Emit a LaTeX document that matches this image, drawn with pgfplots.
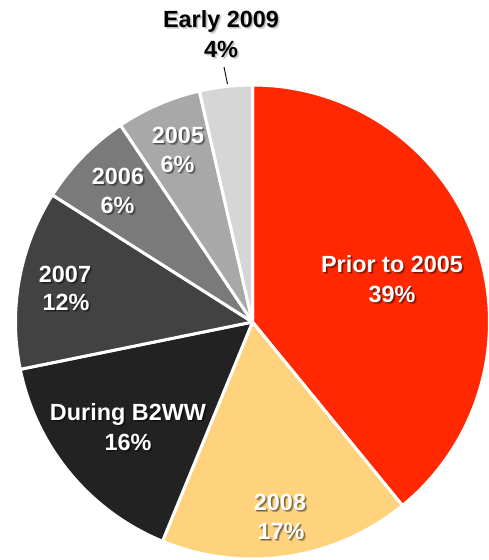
\documentclass[border=0pt]{standalone}
\usepackage{fontspec}
\setmainfont{Liberation Sans}
\usepackage{pgfplots}
\pgfplotsset{compat=1.18}
\definecolor{cPrior}{RGB}{255,40,0}
\definecolor{cEight}{RGB}{255,211,125}
\definecolor{cB2WW}{RGB}{34,34,34}
\definecolor{cSeven}{RGB}{66,66,66}
\definecolor{cSix}{RGB}{122,122,122}
\definecolor{cFive}{RGB}{168,168,168}
\definecolor{cEarly}{RGB}{214,214,214}
% shares (percent), clockwise from 12 o'clock
\def\pPrior{39.1}\def\pEight{17.1}\def\pB{15.6}\def\pSeven{12.2}\def\pSix{6.6}\def\pFive{5.8}\def\pEarly{3.6}
\pgfmathsetmacro\aZero{90}
\pgfmathsetmacro\aOne{\aZero-3.6*\pPrior}
\pgfmathsetmacro\aTwo{\aOne-3.6*\pEight}
\pgfmathsetmacro\aThree{\aTwo-3.6*\pB}
\pgfmathsetmacro\aFour{\aThree-3.6*\pSeven}
\pgfmathsetmacro\aFive{\aFour-3.6*\pSix}
\pgfmathsetmacro\aSix{\aFive-3.6*\pFive}
\pgfmathsetmacro\aSeven{\aSix-3.6*\pEarly}
\def\cx{252.5}\def\cy{322}\def\R{237}
\newcommand{\lblfont}{\fontsize{23.5}{28}\selectfont\bfseries}
\newcommand{\pieslice}[3]{%
  \addplot[fill=#3, draw=white, line width=3bp, line join=round, domain=#2:#1, samples=120]
    ({\cx+\R*cos(x)},{\cy-\R*sin(x)}) -- (axis cs:\cx,\cy) -- cycle;}
\newcommand{\lbl}[5]{% x, baseline y, text, text color, shadow color
  \node[anchor=base, inner sep=0pt, font=\lblfont, text=#5, opacity=0.25, xshift=2bp, yshift=-2.5bp] at (axis cs:#1,#2) {#3};
  \node[anchor=base, inner sep=0pt, font=\lblfont, text=#5, opacity=0.35, xshift=1.2bp, yshift=-1.5bp] at (axis cs:#1,#2) {#3};
  \node[anchor=base, inner sep=0pt, font=\lblfont, text=#4] at (axis cs:#1,#2) {#3};}
\begin{document}
\begin{tikzpicture}
\path[use as bounding box] (0,0) rectangle (489bp,560bp);
\begin{axis}[
  at={(0,0)}, anchor=south west,
  width=489bp, height=560bp, scale only axis,
  xmin=0, xmax=489, ymin=0, ymax=560, y dir=reverse,
  hide axis, clip=true,
]
\pieslice{\aZero}{\aOne}{cPrior}
\pieslice{\aOne}{\aTwo}{cEight}
\pieslice{\aTwo}{\aThree}{cB2WW}
\pieslice{\aThree}{\aFour}{cSeven}
\pieslice{\aFour}{\aFive}{cSix}
\pieslice{\aFive}{\aSix}{cFive}
\pieslice{\aSix}{\aSeven}{cEarly}
\addplot[black, line width=0.9bp] coordinates {(224,67) (227.5,84)};
\lbl{392}{272}{Prior to 2005}{white}{black}
\lbl{392}{302}{39\%}{white}{black}
\lbl{280}{510}{2008}{white}{black}
\lbl{281}{539}{17\%}{white}{black}
\lbl{128}{420}{During B2WW}{white}{black}
\lbl{128}{450}{16\%}{white}{black}
\lbl{65}{282}{2007}{white}{black}
\lbl{66}{310}{12\%}{white}{black}
\lbl{118}{184}{2006}{white}{black}
\lbl{117.5}{213}{6\%}{white}{black}
\lbl{178}{143}{2005}{white}{black}
\lbl{177.5}{172}{6\%}{white}{black}
\lbl{221}{27}{Early 2009}{black}{gray}
\lbl{221}{57}{4\%}{black}{gray}
\end{axis}
\end{tikzpicture}
\end{document}
